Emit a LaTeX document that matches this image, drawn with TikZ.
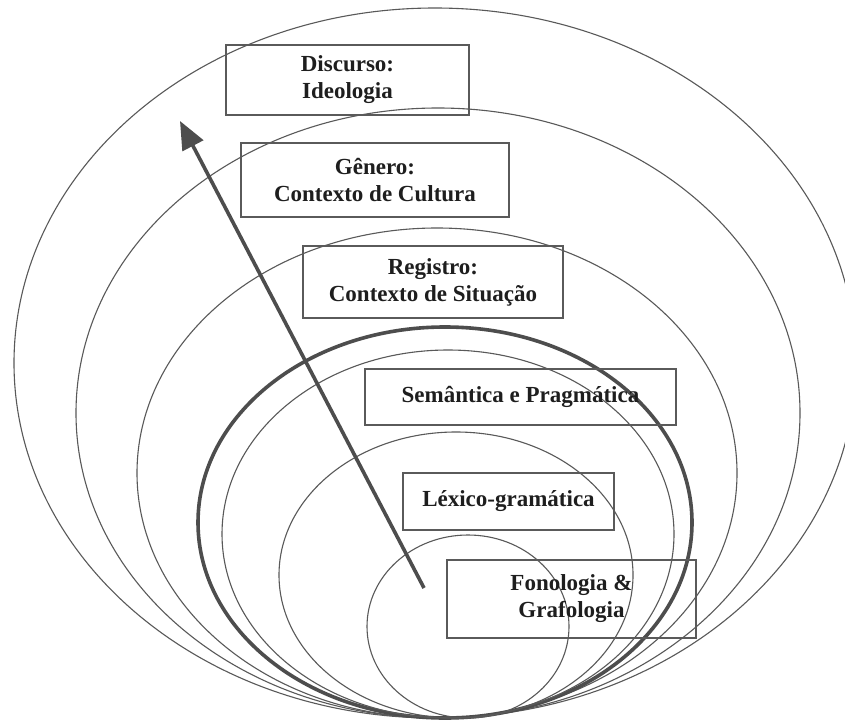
\documentclass[tikz,border=0pt]{standalone}
\usepackage{fontspec}
\setmainfont{Liberation Serif}
\usetikzlibrary{arrows.meta}
\definecolor{ringgray}{HTML}{595959}
\definecolor{boxgray}{HTML}{5A5A5A}
\definecolor{arrowgray}{HTML}{4D4D4D}
\definecolor{textdark}{HTML}{1E1E1E}
\begin{document}
\begin{tikzpicture}[x=1pt,y=-1pt,
  ring/.style={draw=ringgray, line width=1.1pt},
  thickring/.style={draw=arrowgray, line width=3.6pt},
  labelbox/.style={draw=boxgray, line width=1.2pt, inner sep=0pt, align=center,
    font=\fontsize{23}{27}\selectfont\bfseries, text=textdark},
  uparrow/.style={draw=arrowgray, line width=3.6pt,
    -{Triangle[length=28pt,width=23pt]}}
]
\useasboundingbox (0,0) rectangle (845,722);
\clip (0,0) rectangle (845,722);
\fill[white] (0,0) rectangle (845,722);
% nested ellipses
\draw[ring] (435,363) ellipse [x radius=421pt, y radius=355pt];
\draw[ring] (438,413) ellipse [x radius=362pt, y radius=305pt];
\draw[ring] (437,473) ellipse [x radius=300pt, y radius=245pt];
\draw[thickring] (445,522.5) ellipse [x radius=247pt, y radius=195.5pt];
\draw[ring] (448,534) ellipse [x radius=226pt, y radius=184pt];
\draw[ring] (456,575) ellipse [x radius=177pt, y radius=143pt];
\draw[ring] (468,626.5) ellipse [x radius=101pt, y radius=91.5pt];
% boxes
\node[labelbox, minimum width=243pt, minimum height=70pt] (disc) at (347.5,80) {Discurso:\\Ideologia};
\node[labelbox, minimum width=268pt, minimum height=74pt] (gen) at (375,180) {Gênero:\\Contexto de Cultura};
\node[labelbox, minimum width=260pt, minimum height=72pt] (reg) at (433,282) {Registro:\\Contexto de Situação};
\node[labelbox, minimum width=311pt, minimum height=56pt] (sem) at (520.5,397) {Semântica e Pragmática};
\node[labelbox, minimum width=211pt, minimum height=57pt] (lex) at (508.5,501.5) {Léxico-gramática};
\node[labelbox, minimum width=249pt, minimum height=78pt] (fon) at (571.5,599) {Fonologia \&\\Grafologia};
% arrow
\coordinate (astart) at (424,588);
\coordinate (aend) at (180,121);
\draw[uparrow] (astart) -- (aend);
\end{tikzpicture}
\end{document}
